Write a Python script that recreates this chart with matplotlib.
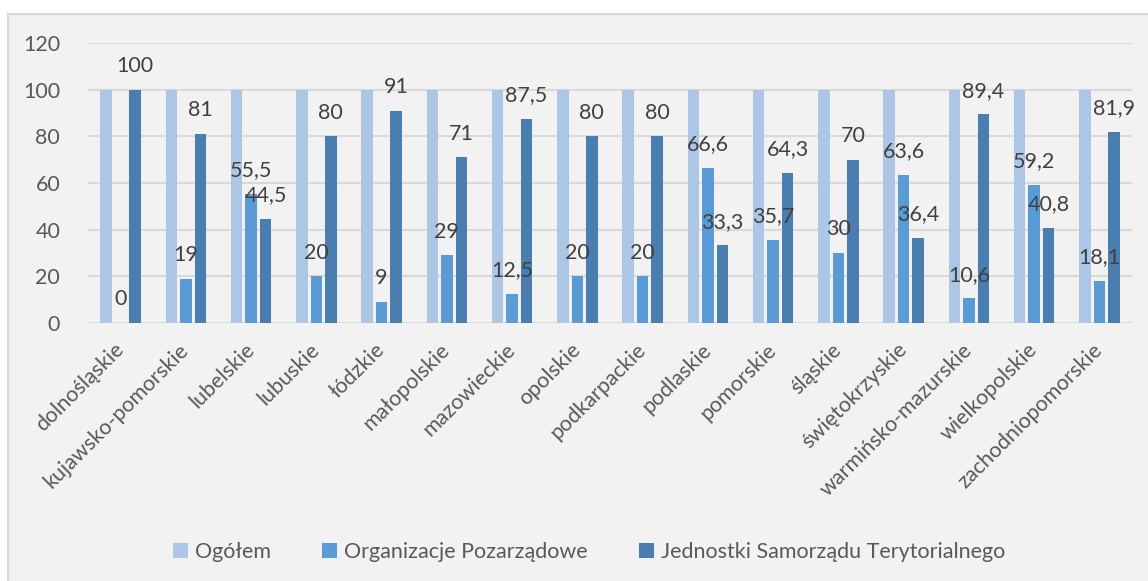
import numpy as np
import matplotlib
matplotlib.use('Agg')
import matplotlib.pyplot as plt
from matplotlib.patches import Rectangle

plt.rcParams['font.family'] = ['Lato', 'DejaVu Sans']

# Data
regions = ['dolnośląskie', 'kujawsko-pomorskie', 'lubelskie', 'lubuskie', 'łódzkie',
           'małopolskie', 'mazowieckie', 'opolskie', 'podkarpackie', 'podlaskie',
           'pomorskie', 'śląskie', 'świętokrzyskie', 'warmińsko-mazurskie',
           'wielkopolskie', 'zachodniopomorskie']
ogolem = [100] * 16
ngo = [0, 19, 55.5, 20, 9, 29, 12.5, 20, 20, 66.6, 35.7, 30, 63.6, 10.6, 59.2, 18.1]
jst = [100, 81, 44.5, 80, 91, 71, 87.5, 80, 80, 33.3, 64.3, 70, 36.4, 89.4, 40.8, 81.9]
series_names = ['Ogółem', 'Organizacje Pozarządowe', 'Jednostki Samorządu Terytorialnego']

colors = ['#adc6e5', '#5b9bd5', '#4a7eb0']
text_color = '#404040'
tick_color = '#595959'


def fmt(v):
    return f'{v:g}'.replace('.', ',')


fig = plt.figure(figsize=(11.48, 5.81), dpi=100)
fig.patch.set_facecolor('white')
fig.patches.append(Rectangle((8 / 1148, -0.01), 1.0, 1 - 14 / 581 + 0.01,
                             transform=fig.transFigure, facecolor='#f2f2f2',
                             edgecolor='#d9d9d9', linewidth=1.5, zorder=-10))

ax = fig.add_axes([88 / 1148, 1 - 323 / 581, (1132 - 88) / 1148, (323 - 43) / 581])
ax.set_facecolor('none')

x = np.arange(len(regions))
w = 0.176
step = 0.222
bars = []
for i, (vals, col, name) in enumerate(zip([ogolem, ngo, jst], colors, series_names)):
    b = ax.bar(x + (i - 1) * step, vals, width=w, color=col, label=name, zorder=3)
    bars.append(b)

# data labels for the second and third series
for b, vals in zip(bars[1:], [ngo, jst]):
    for rect, v in zip(b, vals):
        ax.annotate(fmt(v), (rect.get_x() + rect.get_width() / 2, v),
                    xytext=(0, 17), textcoords='offset points',
                    ha='center', va='center', fontsize=15.5, color=text_color, zorder=4)

ax.set_ylim(0, 120)
ax.set_xlim(-0.5, len(regions) - 0.5)
ax.set_yticks(range(0, 121, 20))
ax.yaxis.grid(True, color='#d9d9d9', linewidth=1.5, zorder=0)
ax.set_axisbelow(True)
for s in ax.spines.values():
    s.set_visible(False)
ax.tick_params(axis='both', length=0, labelsize=15.5, labelcolor=tick_color)
ax.tick_params(axis='y', pad=20)
ax.set_xticks(x)
ax.set_xticklabels(regions, rotation=45, ha='right', va='center',
                   rotation_mode='anchor')
ax.tick_params(axis='x', pad=17)

fig.legend(loc='center', bbox_to_anchor=(589 / 1148, 1 - 552 / 581), ncol=3,
           frameon=False, fontsize=15.5, handlelength=0.7, handleheight=0.7,
           handletextpad=0.3, columnspacing=2.4, labelcolor=tick_color)

fig.savefig('out.png', dpi=100, facecolor=fig.get_facecolor())
